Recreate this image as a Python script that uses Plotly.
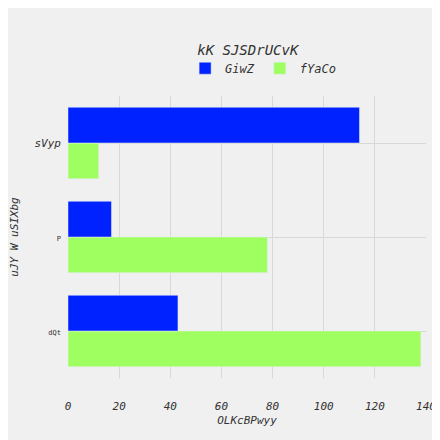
import plotly.graph_objects as go

categories = ["dQt", "P", "sVyp"]
giwz = [43, 17, 114]
fyaco = [138, 78, 12]
tick_labels = ["<span style='font-size:7px'>dQt</span>",
               "<span style='font-size:7px'>P</span>",
               "<i>sVyp</i>"]

fig = go.Figure()
fig.add_trace(go.Bar(y=categories, x=fyaco, name="<i>fYaCo</i>", orientation="h",
                     marker_color="#a0ff60"))
fig.add_trace(go.Bar(y=categories, x=giwz, name="<i>GiwZ</i>", orientation="h",
                     marker_color="#0022ff"))

fig.update_layout(
    width=440, height=440,
    paper_bgcolor="#f0f0f0", plot_bgcolor="#f0f0f0",
    font=dict(family="DejaVu Sans Mono", size=11, color="#333"),
    title=dict(text="<i>kK SJSDrUCvK</i>", x=0.545, y=0.915, xanchor="center",
               font=dict(size=14)),
    barmode="group", bargap=0.24,
    legend=dict(orientation="h", x=0.545, xanchor="center", y=1.15,
                traceorder="reversed", font=dict(size=12)),
    margin=dict(l=60, r=22, t=88, b=70, autoexpand=False),
    xaxis=dict(title=dict(text="<i>OLKcBPwyy</i>", font=dict(size=11), standoff=4),
               range=[0, 140], dtick=20, showgrid=True, gridcolor="#d8d8d8",
               zeroline=False, tickfont=dict(size=11), tickprefix="<i>", ticksuffix="</i>",
               automargin=False, ticklabelstandoff=20),
    yaxis=dict(title=dict(text="<i>uJY W uSIXbg</i>", font=dict(size=11), standoff=14),
               tickvals=categories, ticktext=tick_labels, automargin=False,
               showgrid=True, gridcolor="#d8d8d8", ticklabelstandoff=6),
)

fig.write_html("out.html")
